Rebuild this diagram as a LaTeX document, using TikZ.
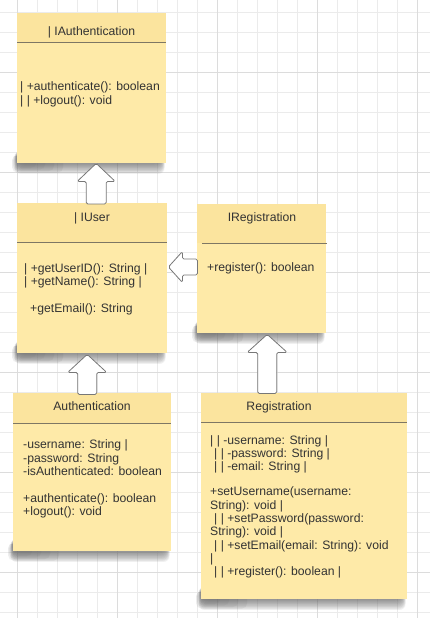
\documentclass[tikz,border=0pt]{standalone}
\usepackage{fontspec}
\setmainfont{Liberation Sans}
\usetikzlibrary{calc}

\definecolor{note}{HTML}{FEEAA8}
\definecolor{notehead}{HTML}{FBE49E}
\definecolor{headrule}{HTML}{7E7764}
\definecolor{ink}{HTML}{333333}
\definecolor{gridminor}{HTML}{EBEBEB}
\definecolor{gridmajor}{HTML}{DCDCDC}
\definecolor{arrowedge}{HTML}{777777}
\definecolor{shade}{HTML}{505050}

% soft drop shadow under a sticky note (left, bottom, right edge),
% heavier towards its lower left corner
\newcommand\noteshadow[3]{%
  \foreach \k in {1,...,10}
    \fill[shade, opacity=0.06, rounded corners=6pt]
      ({#1-3+0.5*\k},{#2-12}) rectangle ({#3-1-0.5*\k},{#2+12-1.1*\k});
  \foreach \k in {1,...,4}
    \fill[shade, opacity=0.06, rounded corners=5pt]
      ({#1-6+1.2*\k},{#2-8}) rectangle ({#1+55-9*\k},{#2+11-1.5*\k});
}

\begin{document}
\begin{tikzpicture}[x=1pt,y=-1pt,
  notebox/.style={fill=note, draw=none, inner sep=0pt, anchor=north west},
  headband/.style={fill=notehead},
  headline/.style={draw=headrule, line width=1pt},
  title/.style={anchor=base, inner sep=0pt, text=ink, font=\fontsize{12.2}{14}\selectfont},
  member/.style={anchor=base west, inner sep=0pt, text=ink, font=\fontsize{12.2}{14}\selectfont},
  blockarrow/.style={fill=white, draw=arrowedge, line width=0.8pt,
    rounded corners=1.5pt, line join=round}]

% canvas and background grid
\useasboundingbox (0,0) rectangle (430,618);
\fill[white] (0,0) rectangle (430,618);
\foreach \x in {17,37,...,417} \draw[gridminor, line width=0.7pt] (\x,0) -- (\x,618);
\foreach \y in {12,32,...,612} \draw[gridminor, line width=0.7pt] (0,\y) -- (430,\y);
\foreach \x in {17,117,...,417} \draw[gridmajor, line width=0.8pt] (\x,0) -- (\x,618);
\foreach \y in {72,172,...,572} \draw[gridmajor, line width=0.8pt] (0,\y) -- (430,\y);

% shadows beneath the notes
\noteshadow{17}{163}{166}
\noteshadow{17}{353}{167}
\noteshadow{197}{333}{326}
\noteshadow{13}{551}{171}
\noteshadow{201}{599}{407}

% ---- IAuthentication ----
\node[notebox, minimum width=149pt, minimum height=150pt] (iauth) at (17,13) {};
\fill[headband] (17,13) rectangle (166,43);
\draw[headline] (17,43) -- (166,43);
\node[title] (iauth-t) at (91.5,36) {| IAuthentication};
\node[member] (iauth-m1) at (20,90) {| +authenticate(): boolean};
\node[member] (iauth-m2) at (20,104) {| | +logout(): void};

% ---- IUser ----
\node[notebox, minimum width=150pt, minimum height=150pt] (iuser) at (17,203) {};
\fill[headband] (17,203) rectangle (167,242);
\draw[headline] (17,242) -- (167,242);
\node[title] (iuser-t) at (92,221) {| IUser};
\node[member] (iuser-m1) at (24,272) {| +getUserID(): String |};
\node[member] (iuser-m2) at (24,285.5) {| +getName(): String |};
\node[member] (iuser-m3) at (30,312) {+getEmail(): String};

% ---- IRegistration ----
\node[notebox, minimum width=129pt, minimum height=129pt] (ireg) at (197,204) {};
\fill[headband] (197,204) rectangle (326,243);
\draw[headline] (202,243) -- (327,243);
\node[title] (ireg-t) at (262,221) {IRegistration};
\node[member] (ireg-m1) at (207,271) {+register(): boolean};

% ---- Authentication ----
\node[notebox, minimum width=158pt, minimum height=158pt] (auth) at (13,393) {};
\fill[headband] (13,393) rectangle (171,423);
\draw[headline] (13,423) -- (171,423);
\node[title] (auth-t) at (92,410) {Authentication};
\node[member] (auth-a1) at (23,448.3) {-username: String |};
\node[member] (auth-a2) at (23,462.3) {-password: String};
\node[member] (auth-a3) at (23,475.7) {-isAuthenticated: boolean};
\node[member] (auth-m1) at (23,502.3) {+authenticate(): boolean};
\node[member] (auth-m2) at (23,515.7) {+logout(): void};

% ---- Registration ----
\node[notebox, minimum width=206pt, minimum height=206pt] (reg) at (201,393) {};
\fill[headband] (201,393) rectangle (407,422);
\draw[headline] (201,422) -- (407,422);
\node[title] (reg-t) at (279,410) {Registration};
\node[member] (reg-a1) at (210,444) {| | -username: String |};
\node[member] (reg-a2) at (214,457.3) {| | -password: String |};
\node[member] (reg-a3) at (214,470.7) {| | -email: String |};
\node[member] (reg-m1) at (210,495.7) {+setUsername(username:};
\node[member] (reg-m2) at (210,509) {String): void |};
\node[member] (reg-m3) at (214,522.3) {| | +setPassword(password:};
\node[member] (reg-m4) at (210,535.7) {String): void |};
\node[member] (reg-m5) at (214,549) {| | +setEmail(email: String): void};
\node[member] (reg-m6) at (210,562.3) {|};
\node[member] (reg-m7) at (214,575.7) {| | +register(): boolean |};

% ---- realization arrows (hollow block arrows) ----
\coordinate (tip-iauth) at ($(iauth.south)+(4.5,0)$);
\draw[blockarrow] (tip-iauth) -- ++(19,18) -- ++(-9,0) -- ++(0,22.5)
  -- ++(-20,0) -- ++(0,-22.5) -- ++(-9,0) -- cycle;

\coordinate (tip-iuser-side) at ($(iuser.north east)+(1,64)$);
\draw[blockarrow] (tip-iuser-side) -- ++(14,-15.5) -- ++(0,7.5) -- ++(15,0)
  -- ++(0,16) -- ++(-15,0) -- ++(0,7.5) -- cycle;

\coordinate (tip-iuser) at ($(iuser.south)+(-5,1)$);
\draw[blockarrow] (tip-iuser) -- ++(19.5,18) -- ++(-10,0) -- ++(0,22)
  -- ++(-19,0) -- ++(0,-22) -- ++(-10,0) -- cycle;

\coordinate (tip-ireg) at ($(ireg.south)+(5.5,1)$);
\draw[blockarrow] (tip-ireg) -- ++(20,18) -- ++(-10.5,0) -- ++(0,41)
  -- ++(-19,0) -- ++(0,-41) -- ++(-10.5,0) -- cycle;
\end{tikzpicture}
\end{document}
